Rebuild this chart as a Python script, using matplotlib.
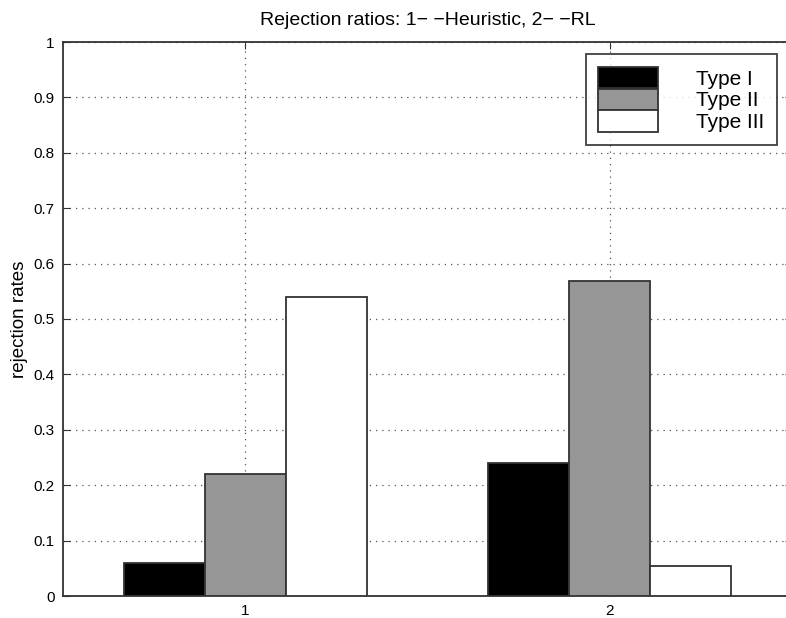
import matplotlib
matplotlib.use("Agg")
import matplotlib.pyplot as plt
import numpy as np

plt.rcParams['font.family'] = ['Liberation Sans', 'DejaVu Sans']

groups = [1, 2]
series_names = ["Type I", "Type II", "Type III"]
type1 = [0.06, 0.24]
type2 = [0.22, 0.568]
type3 = [0.54, 0.055]
colors = ["#000000", "#969696", "#ffffff"]

fig = plt.figure(figsize=(7.86, 6.18), dpi=100)
ax = fig.add_axes([63/786, 22/618, 729/786, 554/618])

x = np.array(groups, dtype=float)
w = 0.222
for i, (vals, c, name) in enumerate(zip([type1, type2, type3], colors, series_names)):
    ax.bar(x + (i - 1) * w, vals, width=w, color=c, edgecolor="#333333",
           linewidth=1.3, label=name, zorder=3)

ax.set_xlim(0.5, 2.5)
ax.set_ylim(0, 1)
ax.set_xticks(groups)
ax.set_yticks(np.round(np.arange(0, 1.01, 0.1), 1))
ax.set_yticklabels(["0", "0.1", "0.2", "0.3", "0.4", "0.5", "0.6", "0.7", "0.8", "0.9", "1"])
ax.grid(True, linestyle=(0, (1, 4)), color="#555555", linewidth=0.9, zorder=0)
ax.tick_params(direction="in", top=True, right=True, labelsize=11, length=5,
               color="#333333", pad=6)
for s in ax.spines.values():
    s.set_linewidth(1.3)
    s.set_color("#333333")

ax.set_ylabel("rejection rates", fontsize=13.5, labelpad=4)
ax.set_title("Rejection ratios: 1\u2212 \u2212Heuristic, 2\u2212 \u2212RL", fontsize=14, pad=12)

leg = ax.legend(loc="upper right", bbox_to_anchor=(0.979, 0.978), borderaxespad=0,
                fontsize=15, frameon=True, fancybox=False, edgecolor="#111111",
                handlelength=2.9, handleheight=1.22, handletextpad=1.8,
                labelspacing=0.0, borderpad=0.6)
leg.get_frame().set_linewidth(1.3)

fig.savefig("out.png", dpi=100)
